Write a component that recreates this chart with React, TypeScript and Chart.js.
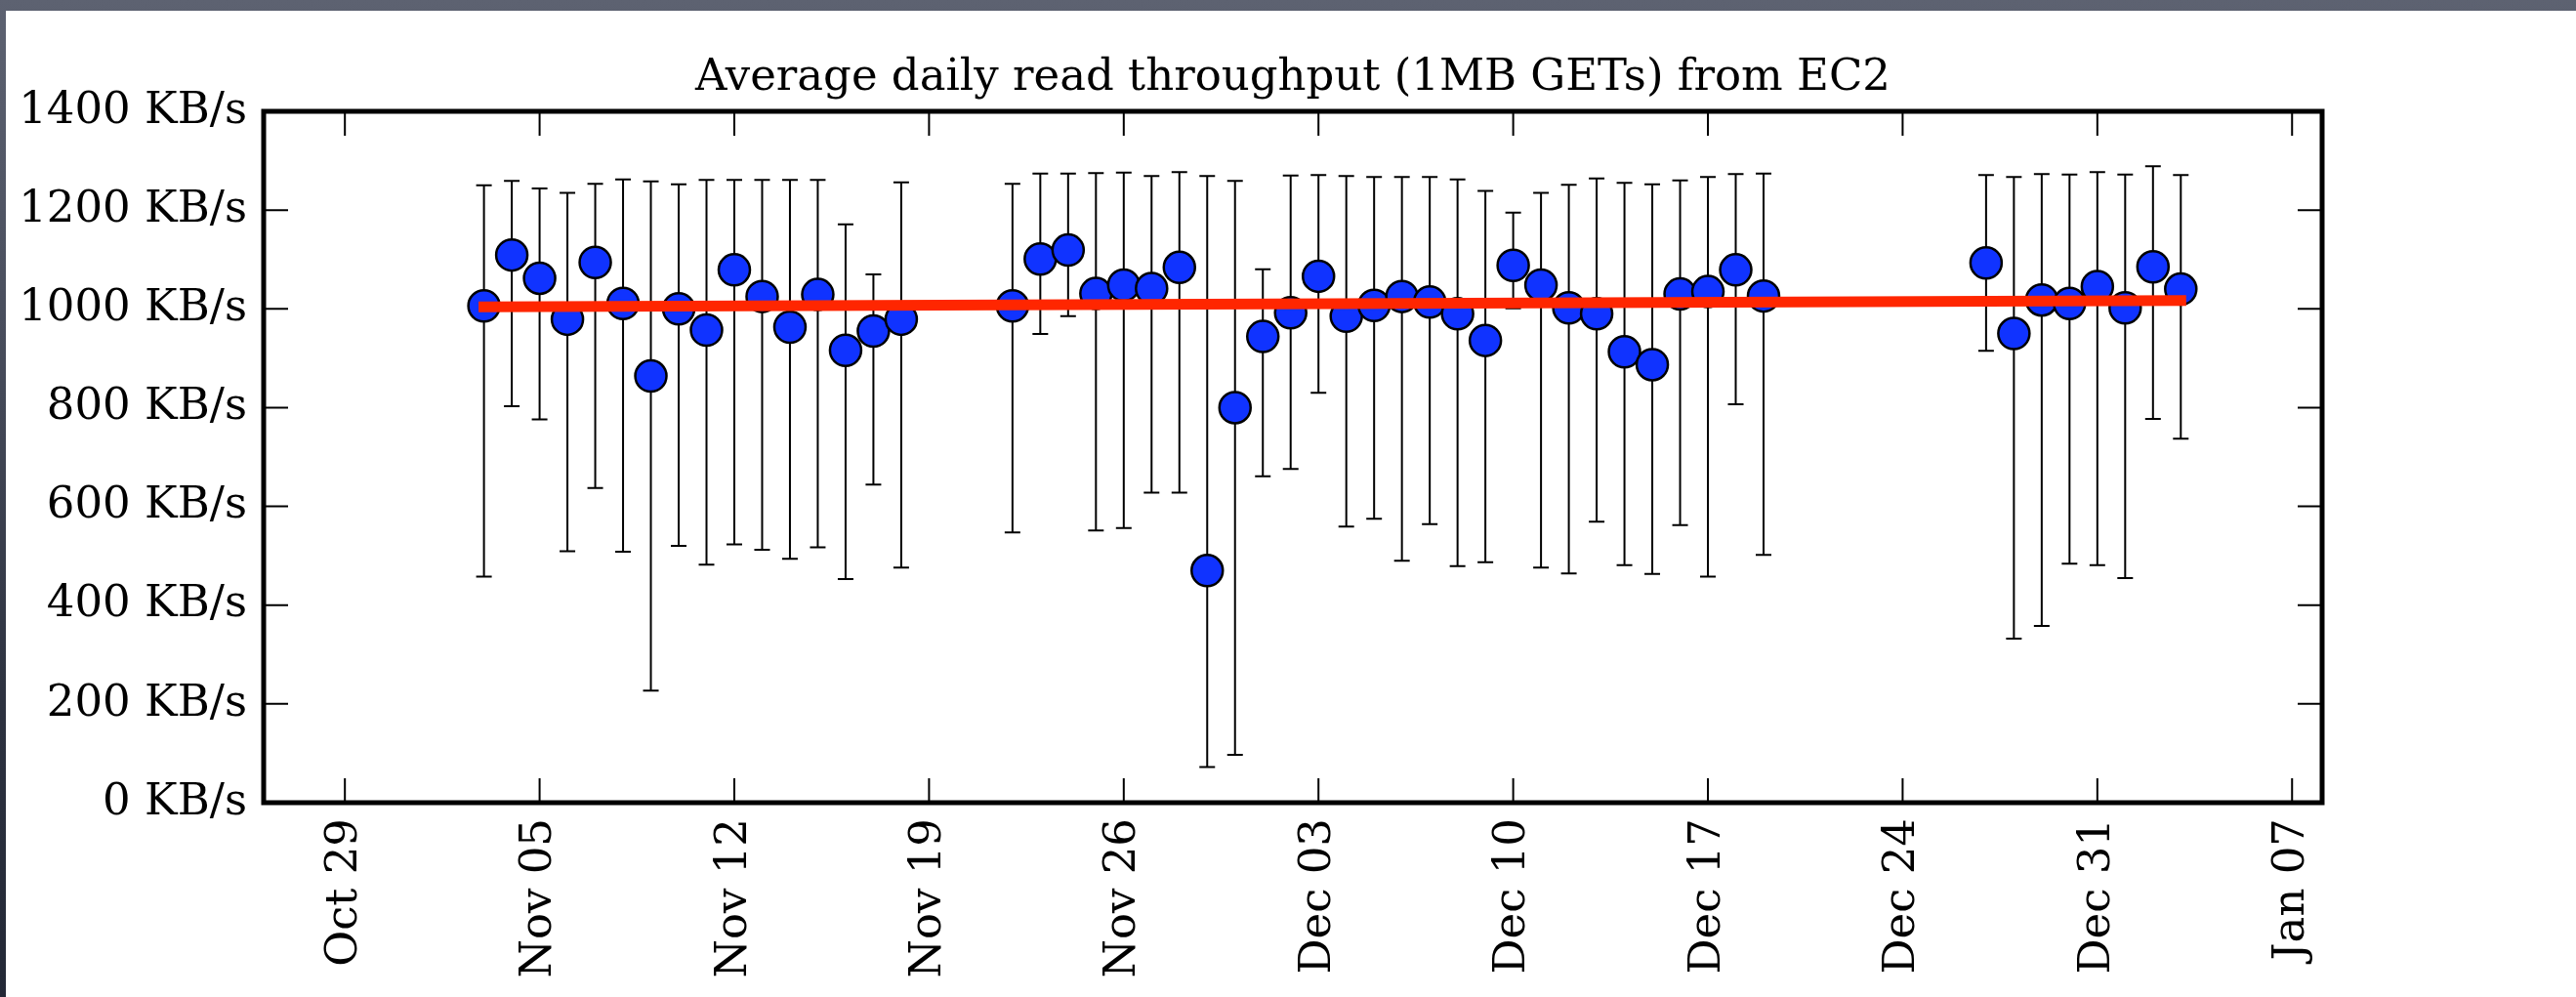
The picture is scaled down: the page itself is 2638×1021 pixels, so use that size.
import React, { useEffect, useRef } from 'react';
import { Chart, registerables } from 'chart.js';

Chart.register(...registerables);

// ---------------- data ----------------
const chartTitle = 'Average daily read throughput (1MB GETs) from EC2';
const originDate = '2011-10-29';
const xLimitsDays = [-2.92, 71.08];

const tickDates = [
  '2011-10-29', '2011-11-05', '2011-11-12', '2011-11-19', '2011-11-26', '2011-12-03',
  '2011-12-10', '2011-12-17', '2011-12-24', '2011-12-31', '2012-01-07',
];
const tickLabels = [
  'Oct 29', 'Nov 05', 'Nov 12', 'Nov 19', 'Nov 26', 'Dec 03',
  'Dec 10', 'Dec 17', 'Dec 24', 'Dec 31', 'Jan 07',
];

const yMin = 0;
const yMax = 1400;
const yStep = 200;
const yUnit = 'KB/s';

const dates = [
  // Nov 03 – Nov 18
  '2011-11-03', '2011-11-04', '2011-11-05', '2011-11-06', '2011-11-07', '2011-11-08',
  '2011-11-09', '2011-11-10', '2011-11-11', '2011-11-12', '2011-11-13', '2011-11-14',
  '2011-11-15', '2011-11-16', '2011-11-17', '2011-11-18',
  // Nov 22 – Dec 19
  '2011-11-22', '2011-11-23', '2011-11-24', '2011-11-25', '2011-11-26', '2011-11-27',
  '2011-11-28', '2011-11-29', '2011-11-30', '2011-12-01', '2011-12-02', '2011-12-03',
  '2011-12-04', '2011-12-05', '2011-12-06', '2011-12-07', '2011-12-08', '2011-12-09',
  '2011-12-10', '2011-12-11', '2011-12-12', '2011-12-13', '2011-12-14', '2011-12-15',
  '2011-12-16', '2011-12-17', '2011-12-18', '2011-12-19',
  // Dec 27 – Jan 03
  '2011-12-27', '2011-12-28', '2011-12-29', '2011-12-30', '2011-12-31', '2012-01-01',
  '2012-01-02', '2012-01-03',
];

const meanKBs = [
  1006, 1109, 1062, 979, 1094, 1011, 864, 1000, 957, 1079, 1025, 963, 1029, 916, 955, 979,
  1006, 1101, 1119, 1031, 1048, 1041, 1084, 470, 800, 944, 992, 1066, 985, 1007, 1025, 1014,
  990, 936, 1088, 1048, 1002, 990, 913, 887, 1030, 1035, 1079, 1026,
  1093, 950, 1018, 1011, 1045, 1002, 1085, 1040,
];

const upperKBs = [
  1250, 1259, 1244, 1235, 1253, 1262, 1258, 1252, 1261, 1261, 1261, 1261, 1261, 1171, 1070, 1256,
  1253, 1274, 1274, 1275, 1276, 1269, 1277, 1269, 1259, 1080, 1270, 1271, 1269, 1267, 1267, 1267,
  1262, 1239, 1195, 1235, 1251, 1264, 1255, 1252, 1260, 1267, 1273, 1274,
  1271, 1267, 1273, 1272, 1277, 1272, 1289, 1271,
];

const lowerKBs = [
  458, 803, 776, 509, 637, 508, 227, 520, 482, 523, 512, 494, 517, 453, 644, 476,
  547, 949, 985, 551, 556, 628, 628, 72, 97, 661, 676, 830, 559, 575, 490, 564,
  479, 487, 1001, 476, 464, 569, 481, 463, 562, 458, 807, 502,
  915, 332, 358, 484, 481, 455, 777, 737,
];

const trendDates = ['2011-11-03', '2012-01-03'];
const trendKBs = [1004, 1017];

// ---------------- helpers ----------------
const DAY = 86400000;
const dayOf = (s: string) => Math.round((Date.parse(s) - Date.parse(originDate)) / DAY);

const FONT = "'DejaVu Serif', 'Liberation Serif', serif";

const framePlugin = {
  id: 'mplFrame',
  beforeDatasetsDraw(chart: any) {
    const { ctx, scales } = chart;
    const x = scales.x;
    const y = scales.y;
    ctx.save();
    ctx.strokeStyle = '#000';
    ctx.lineWidth = 2;
    ctx.lineCap = 'butt';
    const cap = 8;
    dates.forEach((d, i) => {
      const px = x.getPixelForValue(dayOf(d));
      const top = y.getPixelForValue(upperKBs[i]);
      const bot = y.getPixelForValue(lowerKBs[i]);
      ctx.beginPath();
      ctx.moveTo(px, top);
      ctx.lineTo(px, bot);
      ctx.moveTo(px - cap, top);
      ctx.lineTo(px + cap, top);
      ctx.moveTo(px - cap, bot);
      ctx.lineTo(px + cap, bot);
      ctx.stroke();
    });
    ctx.restore();
  },
  afterDraw(chart: any) {
    const { ctx, chartArea, scales } = chart;
    const { left, right, top, bottom } = chartArea;
    const tickLen = 25;
    ctx.save();
    ctx.strokeStyle = '#000';
    ctx.lineWidth = 2;
    ctx.beginPath();
    scales.x.ticks.forEach((t: any) => {
      const px = scales.x.getPixelForValue(t.value);
      ctx.moveTo(px, bottom);
      ctx.lineTo(px, bottom - tickLen);
      ctx.moveTo(px, top);
      ctx.lineTo(px, top + tickLen);
    });
    scales.y.ticks.forEach((t: any) => {
      const py = scales.y.getPixelForValue(t.value);
      ctx.moveTo(left, py);
      ctx.lineTo(left + tickLen, py);
      ctx.moveTo(right, py);
      ctx.lineTo(right - tickLen, py);
    });
    ctx.stroke();
    ctx.lineWidth = 5;
    ctx.strokeRect(left, top, right - left, bottom - top);
    ctx.restore();
  },
};

export default function App() {
  const canvasRef = useRef<HTMLCanvasElement | null>(null);

  useEffect(() => {
    document.body.style.margin = '0';
    const canvas = canvasRef.current;
    if (!canvas) return;

    const points = dates.map((d, i) => ({ x: dayOf(d), y: meanKBs[i] }));
    const trend = trendDates.map((d, i) => ({ x: dayOf(d), y: trendKBs[i] }));
    const tickDays = tickDates.map(dayOf);

    const chart = new Chart(canvas, {
      type: 'scatter',
      data: {
        datasets: [
          {
            type: 'line',
            label: 'trend',
            data: trend,
            borderColor: '#ff2600',
            borderWidth: 11,
            borderCapStyle: 'square',
            pointRadius: 0,
            fill: false,
            order: 0,
          } as any,
          {
            label: 'daily average',
            data: points,
            pointRadius: 16,
            pointHoverRadius: 16,
            pointBackgroundColor: '#1033ff',
            pointBorderColor: '#000',
            pointBorderWidth: 2.5,
            order: 1,
          },
        ],
      },
      options: {
        animation: false,
        responsive: false,
        devicePixelRatio: 1,
        events: [],
        layout: { padding: { left: 0, right: 260, top: 0, bottom: 0 } },
        plugins: {
          legend: { display: false },
          tooltip: { enabled: false },
          title: {
            display: true,
            text: chartTitle,
            fullSize: false,
            color: '#000',
            font: { family: FONT, size: 45, weight: 'normal', lineHeight: 1.2 },
            padding: { top: 53, bottom: 7 },
          },
        },
        scales: {
          x: {
            type: 'linear',
            min: xLimitsDays[0],
            max: xLimitsDays[1],
            afterBuildTicks: (scale: any) => {
              scale.ticks = tickDays.map((v) => ({ value: v }));
            },
            afterFit: (scale: any) => {
              scale.height = 199;
            },
            ticks: {
              autoSkip: false,
              maxRotation: 90,
              minRotation: 90,
              padding: 16,
              color: '#000',
              font: { family: FONT, size: 45 },
              callback: (v: any) => {
                const idx = tickDays.indexOf(Number(v));
                return idx >= 0 ? tickLabels[idx] : '';
              },
            },
            grid: { display: false, drawTicks: false },
            border: { display: false },
          },
          y: {
            type: 'linear',
            min: yMin,
            max: yMax,
            afterFit: (scale: any) => {
              scale.width = 270;
            },
            ticks: {
              stepSize: yStep,
              padding: 17,
              color: '#000',
              font: { family: FONT, size: 45 },
              callback: (v: any) => `${v} ${yUnit}`,
            },
            grid: { display: false, drawTicks: false },
            border: { display: false },
          },
        },
      },
      plugins: [framePlugin],
    });

    return () => chart.destroy();
  }, []);

  return (
    <div
      style={{
        position: 'fixed',
        left: 0,
        top: 0,
        width: 2638,
        height: 1021,
        overflow: 'hidden',
        background:
          'linear-gradient(180deg, #5d6271 0%, #474c5b 35%, #2d3240 70%, #232836 100%)',
      }}
    >
      <div
        style={{
          position: 'absolute',
          left: 6,
          top: 11,
          right: 0,
          bottom: 0,
          background: '#ffffff',
        }}
      />
      <canvas
        ref={canvasRef}
        width={2638}
        height={1021}
        style={{ position: 'absolute', left: 0, top: 0, width: 2638, height: 1021 }}
      />
    </div>
  );
}
